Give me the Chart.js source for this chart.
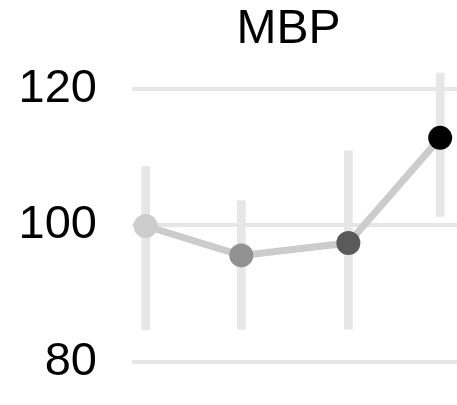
<!DOCTYPE html>
<html>
<head>
<meta charset="utf-8">
<script src="https://cdn.jsdelivr.net/npm/chart.js@4"></script>
<style>
  html, body { margin: 0; padding: 0; background: #fff; }
  canvas { display: block; }
</style>
</head>
<body>
<canvas id="grafico" width="457" height="405"></canvas>
<script>
const xPos = [1, 2, 3.12, 4.08]
const mbp = [99.9, 95.6, 97.4, 112.8]
const errLow = [84.7, 84.8, 84.8, 101.3]
const errHigh = [108.6, 103.6, 110.9, 122.3]
const pointColors = ['#cccccc', '#929292', '#5a5a5a', '#000000']
const yTicks = [80, 100, 120]
const titulo = 'MBP'

const fonte = 'Liberation Sans, Arial, Helvetica, sans-serif'

// titulo centrado sobre a area do grafico, nao sobre o canvas todo
const tituloPlugin = {
  id: 'tituloArea',
  afterDraw(chart) {
    const c = chart.ctx
    const area = chart.chartArea
    c.save()
    c.fillStyle = '#000'
    c.font = '48px ' + fonte
    c.textAlign = 'center'
    c.textBaseline = 'middle'
    c.fillText(titulo, (area.left + area.right) / 2 - 6, 30)
    c.restore()
  }
}

const ctx = document.getElementById('grafico')

new Chart(ctx, {
  data: {
    datasets: [{
      type: 'line',
      label: 'MBP',
      data: xPos.map((x, i) => ({ x: x, y: mbp[i] })),
      borderColor: '#cccccc',
      borderWidth: 7,
      pointRadius: 12,
      pointHoverRadius: 12,
      pointBorderWidth: 0,
      pointBackgroundColor: pointColors,
      tension: 0,
      clip: false,
      order: 1
    }, {
      type: 'bar',
      label: 'erro',
      data: xPos.map((x, i) => ({ x: x, y: [errLow[i], errHigh[i]] })),
      backgroundColor: '#e6e6e6',
      barThickness: 8,
      order: 2
    }]
  },
  options: {
    responsive: false,
    animation: false,
    layout: { autoPadding: false, padding: { left: 18, right: 0, top: 63.4, bottom: 0 } },
    plugins: {
      legend: { display: false },
      tooltip: { enabled: false },
      title: { display: false }
    },
    scales: {
      x: {
        type: 'linear',
        display: false,
        offset: false,
        min: 0.857,
        max: 4.256
      },
      y: {
        min: 73.7,
        max: 123.7,
        afterBuildTicks: scale => {
          scale.ticks = yTicks.map(v => ({ value: v }))
        },
        afterFit: scale => {
          scale.width = 114
          scale.paddingTop = 0
          scale.paddingBottom = 0
        },
        border: { display: false },
        grid: {
          color: '#e6e6e6',
          lineWidth: 4,
          drawTicks: false
        },
        ticks: {
          color: '#000',
          padding: 35,
          font: { family: fonte, size: 47 }
        }
      }
    }
  },
  plugins: [tituloPlugin]
})
</script>
</body>
</html>
